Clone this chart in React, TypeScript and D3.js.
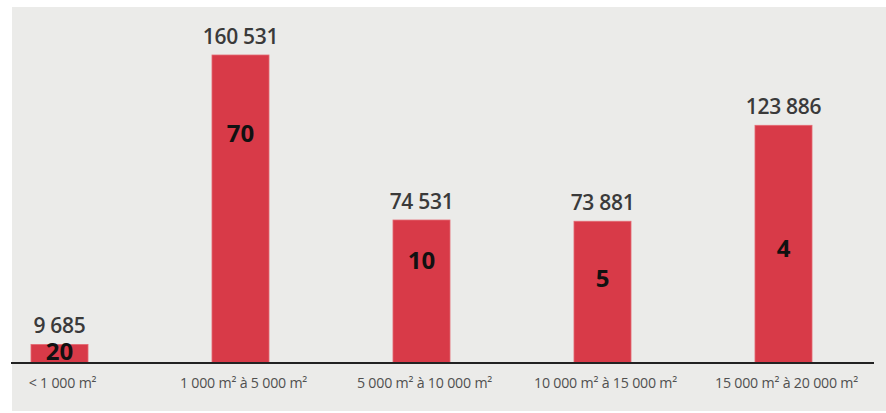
import React from "react";
import * as d3 from "d3";

const categories = ["< 1 000 m²", "1 000 m² à 5 000 m²", "5 000 m² à 10 000 m²", "10 000 m² à 15 000 m²", "15 000 m² à 20 000 m²"];
const surfaces = [9685, 160531, 74531, 73881, 123886];
const counts = [20, 70, 10, 5, 4];
const countLabelFrac = [0.64, 0.747, 0.72, 0.6, 0.483];

const W = 886;
const H = 413;
const axisY = 363;

export default function App() {
  const x = d3
    .scaleBand<string>()
    .domain(categories)
    .range([-31, 874])
    .paddingInner(0.685)
    .paddingOuter(0.3425);
  const y = d3.scaleLinear().domain([0, 160531]).range([axisY, 55]);
  const fmt = (v: number) => d3.format(",")(v).replace(/,/g, " ");
  const font = "'Open Sans', sans-serif";

  return (
    <svg width={W} height={H} style={{ position: "absolute", left: 0, top: 0 }} fontFamily={font}>
      <rect x={12} y={7} width={W - 12} height={404} fill="#ebebe9" />
      {categories.map((c, i) => {
        const bx = x(c)!;
        const bw = x.bandwidth();
        const top = y(surfaces[i]);
        const cx = bx + bw / 2;
        const innerY = axisY - (axisY - top) * countLabelFrac[i];
        return (
          <g key={c}>
            <rect x={bx} y={top} width={bw} height={axisY - top} fill="#d83a48" stroke="#e46a73" strokeWidth={0.8} />
            <text x={cx} y={top - 11} textAnchor="middle" fontSize={21} fontWeight={600} fill="#3a3a3a" letterSpacing={-0.3}>
              {fmt(surfaces[i])}
            </text>
            <text x={cx} y={innerY} dy="0.36em" textAnchor="middle" fontSize={24} fontWeight={700} fill="#111">
              {counts[i]}
            </text>
            <text x={cx + 3} y={388} textAnchor="middle" fontSize={14.2} fill="#505050" letterSpacing={-0.2}>
              {c}
            </text>
          </g>
        );
      })}
      <line x1={11} x2={874} y1={axisY} y2={axisY} stroke="#222" strokeWidth={2} />
    </svg>
  );
}
